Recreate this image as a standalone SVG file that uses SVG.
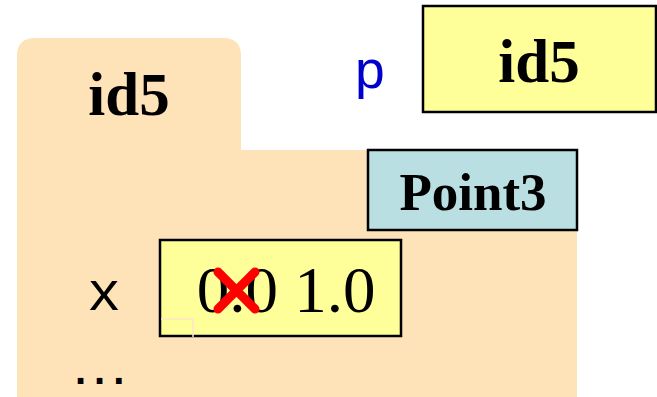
<svg xmlns="http://www.w3.org/2000/svg" width="657" height="397" viewBox="0 0 657 397">
<style>
.b{font-family:"Liberation Serif",serif;font-weight:bold;fill:#000}
.m{font-family:"Liberation Mono",monospace;fill:#000}
.box{stroke:#000;stroke-width:2.5}
</style>
<rect width="657" height="397" fill="#fff"/>
<g id="folder">
<path d="M17,56 Q17,38 35,38 L223,38 Q241,38 241,56 L241,150 L577,150 L577,397 L17,397 Z" fill="#fee2b8"/>
<text class="b" x="129" y="115" font-size="61" text-anchor="middle">id5</text>
</g>
<g id="var-p">
<text class="m" x="370" y="88" font-size="54" style="fill:#0000cc" text-anchor="middle">p</text>
<rect class="box" x="423" y="6" width="233" height="106" fill="#ffff99"/>
<text class="b" x="539" y="82" font-size="61" text-anchor="middle">id5</text>
</g>
<g id="point3">
<rect class="box" x="368" y="150" width="209" height="80" fill="#b9dfe2"/>
<text class="b" x="473" y="210" font-size="53" text-anchor="middle">Point3</text>
</g>
<g id="field-x">
<text class="m" x="104" y="310" font-size="56" text-anchor="middle">x</text>
<rect class="box" x="160" y="240" width="241" height="96" fill="#ffff99"/>
<path d="M161,319 H193 V337" fill="none" stroke="#fde7c8" stroke-width="1.5"/>
<text x="286" y="312" font-family="Liberation Serif,serif" font-size="65" fill="#000" text-anchor="middle">0.0 1.0</text>
<path d="M218,272 L255,309 M255,272 L218,309" stroke="#ff0000" stroke-width="9" stroke-linecap="round"/>
</g>
<g id="more">
<text x="75" y="384" font-family="Liberation Sans,sans-serif" font-weight="bold" font-size="40" letter-spacing="8" fill="#000">...</text>
</g>
</svg>
